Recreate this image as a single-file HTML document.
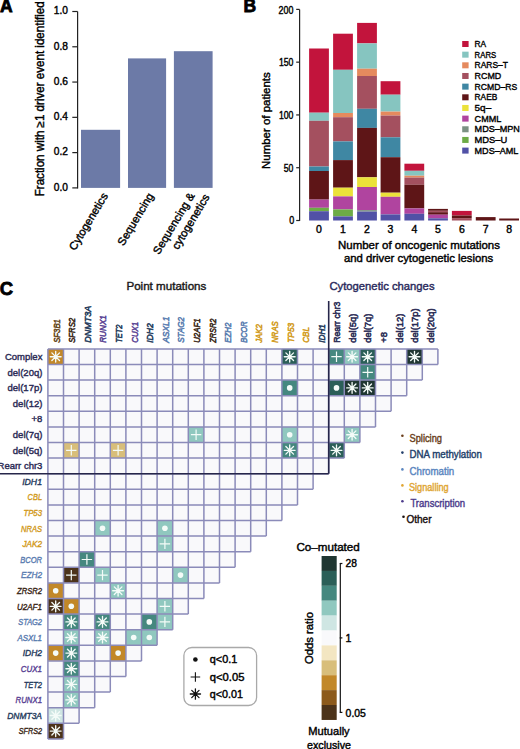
<!DOCTYPE html>
<html><head><meta charset="utf-8"><style>
html,body{margin:0;padding:0;background:#fff;width:520px;height:749px;overflow:hidden}
svg{display:block;font-family:"Liberation Sans", sans-serif}
</style></head><body>
<svg width="520" height="749" viewBox="0 0 520 749">
<text x="0.00" y="12.40" font-size="17.5" fill="#000" font-weight="bold" stroke="#000" stroke-width="0.8">A</text>
<text x="43.60" y="98.80" font-size="12" fill="#000" stroke="#000" stroke-width="0.4" text-anchor="middle" textLength="195" lengthAdjust="spacingAndGlyphs" transform="rotate(-90 43.60 98.80)">Fraction with ≥1 driver event identified</text>
<line x1="77.60" y1="11.50" x2="77.60" y2="188.40" stroke="#222" stroke-width="1.2"/>
<line x1="72.30" y1="187.90" x2="77.60" y2="187.90" stroke="#222" stroke-width="1.2"/>
<text x="68.00" y="190.70" font-size="10.5" fill="#000" stroke="#000" stroke-width="0.4" text-anchor="end" textLength="14.2" lengthAdjust="spacingAndGlyphs">0.0</text>
<line x1="72.30" y1="152.62" x2="77.60" y2="152.62" stroke="#222" stroke-width="1.2"/>
<text x="68.00" y="155.42" font-size="10.5" fill="#000" stroke="#000" stroke-width="0.4" text-anchor="end" textLength="14.2" lengthAdjust="spacingAndGlyphs">0.2</text>
<line x1="72.30" y1="117.34" x2="77.60" y2="117.34" stroke="#222" stroke-width="1.2"/>
<text x="68.00" y="120.14" font-size="10.5" fill="#000" stroke="#000" stroke-width="0.4" text-anchor="end" textLength="14.2" lengthAdjust="spacingAndGlyphs">0.4</text>
<line x1="72.30" y1="82.06" x2="77.60" y2="82.06" stroke="#222" stroke-width="1.2"/>
<text x="68.00" y="84.86" font-size="10.5" fill="#000" stroke="#000" stroke-width="0.4" text-anchor="end" textLength="14.2" lengthAdjust="spacingAndGlyphs">0.6</text>
<line x1="72.30" y1="46.78" x2="77.60" y2="46.78" stroke="#222" stroke-width="1.2"/>
<text x="68.00" y="49.58" font-size="10.5" fill="#000" stroke="#000" stroke-width="0.4" text-anchor="end" textLength="14.2" lengthAdjust="spacingAndGlyphs">0.8</text>
<line x1="72.30" y1="11.50" x2="77.60" y2="11.50" stroke="#222" stroke-width="1.2"/>
<text x="68.00" y="14.30" font-size="10.5" fill="#000" stroke="#000" stroke-width="0.4" text-anchor="end" textLength="14.2" lengthAdjust="spacingAndGlyphs">1.0</text>
<rect x="81.00" y="129.80" width="39.10" height="58.10" fill="#6c7aa7"/>
<rect x="128.00" y="58.40" width="38.10" height="129.50" fill="#6c7aa7"/>
<rect x="173.90" y="51.20" width="38.70" height="136.70" fill="#6c7aa7"/>
<text x="108.30" y="195.80" font-size="11.2" fill="#000" stroke="#000" stroke-width="0.4" text-anchor="end" transform="rotate(-59 108.30 195.80)">Cytogenetics</text>
<text x="154.00" y="195.80" font-size="11.2" fill="#000" stroke="#000" stroke-width="0.4" text-anchor="end" transform="rotate(-59 154.00 195.80)">Sequencing</text>
<text x="195.00" y="195.50" font-size="11.2" fill="#000" stroke="#000" stroke-width="0.4" text-anchor="end" transform="rotate(-59 195.00 195.50)">Sequencing &amp;</text>
<text x="210.00" y="197.00" font-size="11.2" fill="#000" stroke="#000" stroke-width="0.4" text-anchor="end" transform="rotate(-59 210.00 197.00)">cytogenetics</text>
<text x="243.60" y="12.40" font-size="17.5" fill="#000" font-weight="bold" stroke="#000" stroke-width="0.8">B</text>
<text x="269.90" y="120.60" font-size="11.5" fill="#000" stroke="#000" stroke-width="0.4" text-anchor="middle" textLength="96.7" lengthAdjust="spacingAndGlyphs" transform="rotate(-90 269.90 120.60)">Number of patients</text>
<line x1="299.60" y1="9.40" x2="299.60" y2="221.00" stroke="#222" stroke-width="1.2"/>
<line x1="296.20" y1="220.50" x2="299.60" y2="220.50" stroke="#222" stroke-width="1.2"/>
<text x="294.20" y="224.10" font-size="10" fill="#000" stroke="#000" stroke-width="0.4" text-anchor="end" textLength="5" lengthAdjust="spacingAndGlyphs">0</text>
<line x1="296.20" y1="167.72" x2="299.60" y2="167.72" stroke="#222" stroke-width="1.2"/>
<text x="293.40" y="171.92" font-size="10" fill="#000" stroke="#000" stroke-width="0.4" text-anchor="end" textLength="9.6" lengthAdjust="spacingAndGlyphs">50</text>
<line x1="296.20" y1="114.94" x2="299.60" y2="114.94" stroke="#222" stroke-width="1.2"/>
<text x="293.40" y="119.14" font-size="10" fill="#000" stroke="#000" stroke-width="0.4" text-anchor="end" textLength="14.5" lengthAdjust="spacingAndGlyphs">100</text>
<line x1="296.20" y1="62.16" x2="299.60" y2="62.16" stroke="#222" stroke-width="1.2"/>
<text x="293.40" y="66.36" font-size="10" fill="#000" stroke="#000" stroke-width="0.4" text-anchor="end" textLength="14.5" lengthAdjust="spacingAndGlyphs">150</text>
<line x1="296.20" y1="9.38" x2="299.60" y2="9.38" stroke="#222" stroke-width="1.2"/>
<text x="293.40" y="13.58" font-size="10" fill="#000" stroke="#000" stroke-width="0.4" text-anchor="end" textLength="14.8" lengthAdjust="spacingAndGlyphs">200</text>
<rect x="309.10" y="48.50" width="19.80" height="64.20" fill="#c2143c"/>
<rect x="309.10" y="112.70" width="19.80" height="8.10" fill="#86c5c0"/>
<rect x="309.10" y="120.80" width="19.80" height="45.70" fill="#a4505f"/>
<rect x="309.10" y="166.50" width="19.80" height="4.50" fill="#3f87a3"/>
<rect x="309.10" y="171.00" width="19.80" height="28.60" fill="#5e1517"/>
<rect x="309.10" y="199.60" width="19.80" height="8.20" fill="#b0449f"/>
<rect x="309.10" y="207.80" width="19.80" height="3.40" fill="#6dab46"/>
<rect x="309.10" y="211.20" width="19.80" height="9.30" fill="#5151a6"/>
<text x="319.00" y="233.00" font-size="10.5" fill="#000" stroke="#000" stroke-width="0.4" text-anchor="middle">0</text>
<rect x="333.10" y="33.70" width="19.80" height="36.10" fill="#c2143c"/>
<rect x="333.10" y="69.80" width="19.80" height="43.20" fill="#86c5c0"/>
<rect x="333.10" y="113.00" width="19.80" height="4.20" fill="#e58a5e"/>
<rect x="333.10" y="117.20" width="19.80" height="24.20" fill="#a4505f"/>
<rect x="333.10" y="141.40" width="19.80" height="18.70" fill="#3f87a3"/>
<rect x="333.10" y="160.10" width="19.80" height="27.60" fill="#5e1517"/>
<rect x="333.10" y="187.70" width="19.80" height="8.70" fill="#ebe23a"/>
<rect x="333.10" y="196.40" width="19.80" height="13.00" fill="#b0449f"/>
<rect x="333.10" y="209.40" width="19.80" height="7.00" fill="#6dab46"/>
<rect x="333.10" y="216.40" width="19.80" height="4.10" fill="#5151a6"/>
<text x="343.00" y="233.00" font-size="10.5" fill="#000" stroke="#000" stroke-width="0.4" text-anchor="middle">1</text>
<rect x="357.10" y="22.90" width="19.80" height="20.50" fill="#c2143c"/>
<rect x="357.10" y="43.40" width="19.80" height="25.30" fill="#86c5c0"/>
<rect x="357.10" y="68.70" width="19.80" height="7.30" fill="#e58a5e"/>
<rect x="357.10" y="76.00" width="19.80" height="32.80" fill="#a4505f"/>
<rect x="357.10" y="108.80" width="19.80" height="19.10" fill="#3f87a3"/>
<rect x="357.10" y="127.90" width="19.80" height="49.40" fill="#5e1517"/>
<rect x="357.10" y="177.30" width="19.80" height="9.70" fill="#ebe23a"/>
<rect x="357.10" y="187.00" width="19.80" height="23.10" fill="#b0449f"/>
<rect x="357.10" y="210.10" width="19.80" height="1.50" fill="#7b9183"/>
<rect x="357.10" y="211.60" width="19.80" height="8.90" fill="#5151a6"/>
<text x="367.00" y="233.00" font-size="10.5" fill="#000" stroke="#000" stroke-width="0.4" text-anchor="middle">2</text>
<rect x="380.60" y="81.20" width="19.80" height="13.50" fill="#c2143c"/>
<rect x="380.60" y="94.70" width="19.80" height="16.90" fill="#86c5c0"/>
<rect x="380.60" y="111.60" width="19.80" height="4.00" fill="#e58a5e"/>
<rect x="380.60" y="115.60" width="19.80" height="21.70" fill="#a4505f"/>
<rect x="380.60" y="137.30" width="19.80" height="19.90" fill="#3f87a3"/>
<rect x="380.60" y="157.20" width="19.80" height="35.50" fill="#5e1517"/>
<rect x="380.60" y="192.70" width="19.80" height="4.10" fill="#ebe23a"/>
<rect x="380.60" y="196.80" width="19.80" height="17.60" fill="#b0449f"/>
<rect x="380.60" y="214.40" width="19.80" height="6.10" fill="#5151a6"/>
<text x="390.50" y="233.00" font-size="10.5" fill="#000" stroke="#000" stroke-width="0.4" text-anchor="middle">3</text>
<rect x="404.40" y="163.70" width="19.80" height="7.10" fill="#c2143c"/>
<rect x="404.40" y="170.80" width="19.80" height="4.90" fill="#86c5c0"/>
<rect x="404.40" y="175.70" width="19.80" height="1.90" fill="#e58a5e"/>
<rect x="404.40" y="177.60" width="19.80" height="7.20" fill="#a4505f"/>
<rect x="404.40" y="184.80" width="19.80" height="23.60" fill="#5e1517"/>
<rect x="404.40" y="208.40" width="19.80" height="5.40" fill="#b0449f"/>
<rect x="404.40" y="213.80" width="19.80" height="6.70" fill="#5151a6"/>
<text x="414.30" y="233.00" font-size="10.5" fill="#000" stroke="#000" stroke-width="0.4" text-anchor="middle">4</text>
<rect x="428.10" y="208.90" width="19.80" height="1.90" fill="#5e1517"/>
<rect x="428.10" y="210.80" width="19.80" height="1.40" fill="#a4505f"/>
<rect x="428.10" y="212.20" width="19.80" height="2.50" fill="#5e1517"/>
<rect x="428.10" y="214.70" width="19.80" height="3.60" fill="#b0449f"/>
<rect x="428.10" y="218.30" width="19.80" height="2.20" fill="#5151a6"/>
<text x="438.00" y="233.00" font-size="10.5" fill="#000" stroke="#000" stroke-width="0.4" text-anchor="middle">5</text>
<rect x="451.90" y="210.90" width="19.80" height="4.60" fill="#c2143c"/>
<rect x="451.90" y="215.50" width="19.80" height="2.60" fill="#5e1517"/>
<rect x="451.90" y="218.10" width="19.80" height="2.40" fill="#a4505f"/>
<text x="461.80" y="233.00" font-size="10.5" fill="#000" stroke="#000" stroke-width="0.4" text-anchor="middle">6</text>
<rect x="475.80" y="217.10" width="19.80" height="3.40" fill="#5e1517"/>
<text x="485.70" y="233.00" font-size="10.5" fill="#000" stroke="#000" stroke-width="0.4" text-anchor="middle">7</text>
<rect x="499.20" y="218.50" width="19.80" height="2.00" fill="#5e1517"/>
<text x="509.10" y="233.00" font-size="10.5" fill="#000" stroke="#000" stroke-width="0.4" text-anchor="middle">8</text>
<text x="419.00" y="249.20" font-size="11" fill="#000" stroke="#000" stroke-width="0.4" text-anchor="middle" textLength="162" lengthAdjust="spacingAndGlyphs">Number of oncogenic mutations</text>
<text x="418.60" y="262.20" font-size="11" fill="#000" stroke="#000" stroke-width="0.4" text-anchor="middle" textLength="149.4" lengthAdjust="spacingAndGlyphs">and driver cytogenetic lesions</text>
<rect x="462.20" y="41.00" width="6.40" height="6.00" fill="#c2143c"/>
<text x="474.60" y="47.10" font-size="9.8" fill="#000" stroke="#000" stroke-width="0.4" textLength="11.6" lengthAdjust="spacingAndGlyphs">RA</text>
<rect x="462.20" y="51.66" width="6.40" height="6.00" fill="#86c5c0"/>
<text x="474.60" y="57.76" font-size="9.8" fill="#000" stroke="#000" stroke-width="0.4" textLength="21.6" lengthAdjust="spacingAndGlyphs">RARS</text>
<rect x="462.20" y="62.32" width="6.40" height="6.00" fill="#e58a5e"/>
<text x="474.60" y="68.42" font-size="9.8" fill="#000" stroke="#000" stroke-width="0.4" textLength="33.3" lengthAdjust="spacingAndGlyphs">RARS–T</text>
<rect x="462.20" y="72.98" width="6.40" height="6.00" fill="#a4505f"/>
<text x="474.60" y="79.08" font-size="9.8" fill="#000" stroke="#000" stroke-width="0.4" textLength="26.7" lengthAdjust="spacingAndGlyphs">RCMD</text>
<rect x="462.20" y="83.64" width="6.40" height="6.00" fill="#3f87a3"/>
<text x="474.60" y="89.74" font-size="9.8" fill="#000" stroke="#000" stroke-width="0.4" textLength="42.7" lengthAdjust="spacingAndGlyphs">RCMD–RS</text>
<rect x="462.20" y="94.30" width="6.40" height="6.00" fill="#5e1517"/>
<text x="474.60" y="100.40" font-size="9.8" fill="#000" stroke="#000" stroke-width="0.4" textLength="22.7" lengthAdjust="spacingAndGlyphs">RAEB</text>
<rect x="462.20" y="104.96" width="6.40" height="6.00" fill="#ebe23a"/>
<text x="474.60" y="111.06" font-size="9.8" fill="#000" stroke="#000" stroke-width="0.4" textLength="16.6" lengthAdjust="spacingAndGlyphs">5q–</text>
<rect x="462.20" y="115.62" width="6.40" height="6.00" fill="#b0449f"/>
<text x="474.60" y="121.72" font-size="9.8" fill="#000" stroke="#000" stroke-width="0.4" textLength="26.7" lengthAdjust="spacingAndGlyphs">CMML</text>
<rect x="462.20" y="126.28" width="6.40" height="6.00" fill="#7b9183"/>
<text x="474.60" y="132.38" font-size="9.8" fill="#000" stroke="#000" stroke-width="0.4" textLength="45.3" lengthAdjust="spacingAndGlyphs">MDS–MPN</text>
<rect x="462.20" y="136.94" width="6.40" height="6.00" fill="#6dab46"/>
<text x="474.60" y="143.04" font-size="9.8" fill="#000" stroke="#000" stroke-width="0.4" textLength="32.7" lengthAdjust="spacingAndGlyphs">MDS–U</text>
<rect x="462.20" y="147.60" width="6.40" height="6.00" fill="#5151a6"/>
<text x="474.60" y="153.70" font-size="9.8" fill="#000" stroke="#000" stroke-width="0.4" textLength="43.7" lengthAdjust="spacingAndGlyphs">MDS–AML</text>
<text x="-0.30" y="294.80" font-size="18.5" fill="#000" font-weight="bold" stroke="#000" stroke-width="0.8">C</text>
<text x="166.40" y="289.80" font-size="11" fill="#1a1a1a" stroke="#1a1a1a" stroke-width="0.4" text-anchor="middle" textLength="80" lengthAdjust="spacingAndGlyphs">Point mutations</text>
<text x="382.00" y="290.00" font-size="11" fill="#2a2a5c" stroke="#2a2a5c" stroke-width="0.4" text-anchor="middle" textLength="105" lengthAdjust="spacingAndGlyphs">Cytogenetic changes</text>
<rect x="47.90" y="348.90" width="15.60" height="15.60" fill="#c28828"/>
<rect x="63.50" y="348.90" width="15.60" height="15.60" fill="#f9f9fb"/>
<rect x="79.10" y="348.90" width="15.60" height="15.60" fill="#f9f9fb"/>
<rect x="94.70" y="348.90" width="15.60" height="15.60" fill="#f9f9fb"/>
<rect x="110.30" y="348.90" width="15.60" height="15.60" fill="#f9f9fb"/>
<rect x="125.90" y="348.90" width="15.60" height="15.60" fill="#f9f9fb"/>
<rect x="141.50" y="348.90" width="15.60" height="15.60" fill="#f9f9fb"/>
<rect x="157.10" y="348.90" width="15.60" height="15.60" fill="#f9f9fb"/>
<rect x="172.70" y="348.90" width="15.60" height="15.60" fill="#f9f9fb"/>
<rect x="188.30" y="348.90" width="15.60" height="15.60" fill="#f9f9fb"/>
<rect x="203.90" y="348.90" width="15.60" height="15.60" fill="#f9f9fb"/>
<rect x="219.50" y="348.90" width="15.60" height="15.60" fill="#f9f9fb"/>
<rect x="235.10" y="348.90" width="15.60" height="15.60" fill="#f9f9fb"/>
<rect x="250.70" y="348.90" width="15.60" height="15.60" fill="#f9f9fb"/>
<rect x="266.30" y="348.90" width="15.60" height="15.60" fill="#f9f9fb"/>
<rect x="281.90" y="348.90" width="15.60" height="15.60" fill="#2b5f58"/>
<rect x="297.50" y="348.90" width="15.60" height="15.60" fill="#f9f9fb"/>
<rect x="313.10" y="348.90" width="15.60" height="15.60" fill="#f9f9fb"/>
<rect x="328.70" y="348.90" width="15.60" height="15.60" fill="#45887f"/>
<rect x="344.30" y="348.90" width="15.60" height="15.60" fill="#90c8bf"/>
<rect x="359.90" y="348.90" width="15.60" height="15.60" fill="#2b5f58"/>
<rect x="375.50" y="348.90" width="15.60" height="15.60" fill="#f9f9fb"/>
<rect x="391.10" y="348.90" width="15.60" height="15.60" fill="#f9f9fb"/>
<rect x="406.70" y="348.90" width="15.60" height="15.60" fill="#1f3631"/>
<rect x="422.30" y="348.90" width="15.60" height="15.60" fill="#f9f9fb"/>
<rect x="47.90" y="364.50" width="15.60" height="15.60" fill="#f9f9fb"/>
<rect x="63.50" y="364.50" width="15.60" height="15.60" fill="#f9f9fb"/>
<rect x="79.10" y="364.50" width="15.60" height="15.60" fill="#f9f9fb"/>
<rect x="94.70" y="364.50" width="15.60" height="15.60" fill="#f9f9fb"/>
<rect x="110.30" y="364.50" width="15.60" height="15.60" fill="#f9f9fb"/>
<rect x="125.90" y="364.50" width="15.60" height="15.60" fill="#f9f9fb"/>
<rect x="141.50" y="364.50" width="15.60" height="15.60" fill="#f9f9fb"/>
<rect x="157.10" y="364.50" width="15.60" height="15.60" fill="#f9f9fb"/>
<rect x="172.70" y="364.50" width="15.60" height="15.60" fill="#f9f9fb"/>
<rect x="188.30" y="364.50" width="15.60" height="15.60" fill="#f9f9fb"/>
<rect x="203.90" y="364.50" width="15.60" height="15.60" fill="#f9f9fb"/>
<rect x="219.50" y="364.50" width="15.60" height="15.60" fill="#f9f9fb"/>
<rect x="235.10" y="364.50" width="15.60" height="15.60" fill="#f9f9fb"/>
<rect x="250.70" y="364.50" width="15.60" height="15.60" fill="#f9f9fb"/>
<rect x="266.30" y="364.50" width="15.60" height="15.60" fill="#f9f9fb"/>
<rect x="281.90" y="364.50" width="15.60" height="15.60" fill="#f9f9fb"/>
<rect x="297.50" y="364.50" width="15.60" height="15.60" fill="#f9f9fb"/>
<rect x="313.10" y="364.50" width="15.60" height="15.60" fill="#f9f9fb"/>
<rect x="328.70" y="364.50" width="15.60" height="15.60" fill="#f9f9fb"/>
<rect x="344.30" y="364.50" width="15.60" height="15.60" fill="#f9f9fb"/>
<rect x="359.90" y="364.50" width="15.60" height="15.60" fill="#45887f"/>
<rect x="375.50" y="364.50" width="15.60" height="15.60" fill="#f9f9fb"/>
<rect x="391.10" y="364.50" width="15.60" height="15.60" fill="#f9f9fb"/>
<rect x="406.70" y="364.50" width="15.60" height="15.60" fill="#f9f9fb"/>
<rect x="47.90" y="380.10" width="15.60" height="15.60" fill="#f9f9fb"/>
<rect x="63.50" y="380.10" width="15.60" height="15.60" fill="#f9f9fb"/>
<rect x="79.10" y="380.10" width="15.60" height="15.60" fill="#f9f9fb"/>
<rect x="94.70" y="380.10" width="15.60" height="15.60" fill="#f9f9fb"/>
<rect x="110.30" y="380.10" width="15.60" height="15.60" fill="#f9f9fb"/>
<rect x="125.90" y="380.10" width="15.60" height="15.60" fill="#f9f9fb"/>
<rect x="141.50" y="380.10" width="15.60" height="15.60" fill="#f9f9fb"/>
<rect x="157.10" y="380.10" width="15.60" height="15.60" fill="#f9f9fb"/>
<rect x="172.70" y="380.10" width="15.60" height="15.60" fill="#f9f9fb"/>
<rect x="188.30" y="380.10" width="15.60" height="15.60" fill="#f9f9fb"/>
<rect x="203.90" y="380.10" width="15.60" height="15.60" fill="#f9f9fb"/>
<rect x="219.50" y="380.10" width="15.60" height="15.60" fill="#f9f9fb"/>
<rect x="235.10" y="380.10" width="15.60" height="15.60" fill="#f9f9fb"/>
<rect x="250.70" y="380.10" width="15.60" height="15.60" fill="#f9f9fb"/>
<rect x="266.30" y="380.10" width="15.60" height="15.60" fill="#f9f9fb"/>
<rect x="281.90" y="380.10" width="15.60" height="15.60" fill="#45887f"/>
<rect x="297.50" y="380.10" width="15.60" height="15.60" fill="#f9f9fb"/>
<rect x="313.10" y="380.10" width="15.60" height="15.60" fill="#f9f9fb"/>
<rect x="328.70" y="380.10" width="15.60" height="15.60" fill="#2b5f58"/>
<rect x="344.30" y="380.10" width="15.60" height="15.60" fill="#1f3631"/>
<rect x="359.90" y="380.10" width="15.60" height="15.60" fill="#1f3631"/>
<rect x="375.50" y="380.10" width="15.60" height="15.60" fill="#f9f9fb"/>
<rect x="391.10" y="380.10" width="15.60" height="15.60" fill="#f9f9fb"/>
<rect x="47.90" y="395.70" width="15.60" height="15.60" fill="#f9f9fb"/>
<rect x="63.50" y="395.70" width="15.60" height="15.60" fill="#f9f9fb"/>
<rect x="79.10" y="395.70" width="15.60" height="15.60" fill="#f9f9fb"/>
<rect x="94.70" y="395.70" width="15.60" height="15.60" fill="#f9f9fb"/>
<rect x="110.30" y="395.70" width="15.60" height="15.60" fill="#f9f9fb"/>
<rect x="125.90" y="395.70" width="15.60" height="15.60" fill="#f9f9fb"/>
<rect x="141.50" y="395.70" width="15.60" height="15.60" fill="#f9f9fb"/>
<rect x="157.10" y="395.70" width="15.60" height="15.60" fill="#f9f9fb"/>
<rect x="172.70" y="395.70" width="15.60" height="15.60" fill="#f9f9fb"/>
<rect x="188.30" y="395.70" width="15.60" height="15.60" fill="#f9f9fb"/>
<rect x="203.90" y="395.70" width="15.60" height="15.60" fill="#f9f9fb"/>
<rect x="219.50" y="395.70" width="15.60" height="15.60" fill="#f9f9fb"/>
<rect x="235.10" y="395.70" width="15.60" height="15.60" fill="#f9f9fb"/>
<rect x="250.70" y="395.70" width="15.60" height="15.60" fill="#f9f9fb"/>
<rect x="266.30" y="395.70" width="15.60" height="15.60" fill="#f9f9fb"/>
<rect x="281.90" y="395.70" width="15.60" height="15.60" fill="#f9f9fb"/>
<rect x="297.50" y="395.70" width="15.60" height="15.60" fill="#f9f9fb"/>
<rect x="313.10" y="395.70" width="15.60" height="15.60" fill="#f9f9fb"/>
<rect x="328.70" y="395.70" width="15.60" height="15.60" fill="#f9f9fb"/>
<rect x="344.30" y="395.70" width="15.60" height="15.60" fill="#f9f9fb"/>
<rect x="359.90" y="395.70" width="15.60" height="15.60" fill="#f9f9fb"/>
<rect x="375.50" y="395.70" width="15.60" height="15.60" fill="#f9f9fb"/>
<rect x="47.90" y="411.30" width="15.60" height="15.60" fill="#f9f9fb"/>
<rect x="63.50" y="411.30" width="15.60" height="15.60" fill="#f9f9fb"/>
<rect x="79.10" y="411.30" width="15.60" height="15.60" fill="#f9f9fb"/>
<rect x="94.70" y="411.30" width="15.60" height="15.60" fill="#f9f9fb"/>
<rect x="110.30" y="411.30" width="15.60" height="15.60" fill="#f9f9fb"/>
<rect x="125.90" y="411.30" width="15.60" height="15.60" fill="#f9f9fb"/>
<rect x="141.50" y="411.30" width="15.60" height="15.60" fill="#f9f9fb"/>
<rect x="157.10" y="411.30" width="15.60" height="15.60" fill="#f9f9fb"/>
<rect x="172.70" y="411.30" width="15.60" height="15.60" fill="#f9f9fb"/>
<rect x="188.30" y="411.30" width="15.60" height="15.60" fill="#f9f9fb"/>
<rect x="203.90" y="411.30" width="15.60" height="15.60" fill="#f9f9fb"/>
<rect x="219.50" y="411.30" width="15.60" height="15.60" fill="#f9f9fb"/>
<rect x="235.10" y="411.30" width="15.60" height="15.60" fill="#f9f9fb"/>
<rect x="250.70" y="411.30" width="15.60" height="15.60" fill="#f9f9fb"/>
<rect x="266.30" y="411.30" width="15.60" height="15.60" fill="#f9f9fb"/>
<rect x="281.90" y="411.30" width="15.60" height="15.60" fill="#f9f9fb"/>
<rect x="297.50" y="411.30" width="15.60" height="15.60" fill="#f9f9fb"/>
<rect x="313.10" y="411.30" width="15.60" height="15.60" fill="#f9f9fb"/>
<rect x="328.70" y="411.30" width="15.60" height="15.60" fill="#f9f9fb"/>
<rect x="344.30" y="411.30" width="15.60" height="15.60" fill="#f9f9fb"/>
<rect x="359.90" y="411.30" width="15.60" height="15.60" fill="#f9f9fb"/>
<rect x="47.90" y="426.90" width="15.60" height="15.60" fill="#f9f9fb"/>
<rect x="63.50" y="426.90" width="15.60" height="15.60" fill="#f9f9fb"/>
<rect x="79.10" y="426.90" width="15.60" height="15.60" fill="#f9f9fb"/>
<rect x="94.70" y="426.90" width="15.60" height="15.60" fill="#f9f9fb"/>
<rect x="110.30" y="426.90" width="15.60" height="15.60" fill="#f9f9fb"/>
<rect x="125.90" y="426.90" width="15.60" height="15.60" fill="#f9f9fb"/>
<rect x="141.50" y="426.90" width="15.60" height="15.60" fill="#f9f9fb"/>
<rect x="157.10" y="426.90" width="15.60" height="15.60" fill="#f9f9fb"/>
<rect x="172.70" y="426.90" width="15.60" height="15.60" fill="#f9f9fb"/>
<rect x="188.30" y="426.90" width="15.60" height="15.60" fill="#90c8bf"/>
<rect x="203.90" y="426.90" width="15.60" height="15.60" fill="#f9f9fb"/>
<rect x="219.50" y="426.90" width="15.60" height="15.60" fill="#f9f9fb"/>
<rect x="235.10" y="426.90" width="15.60" height="15.60" fill="#f9f9fb"/>
<rect x="250.70" y="426.90" width="15.60" height="15.60" fill="#f9f9fb"/>
<rect x="266.30" y="426.90" width="15.60" height="15.60" fill="#f9f9fb"/>
<rect x="281.90" y="426.90" width="15.60" height="15.60" fill="#90c8bf"/>
<rect x="297.50" y="426.90" width="15.60" height="15.60" fill="#f9f9fb"/>
<rect x="313.10" y="426.90" width="15.60" height="15.60" fill="#f9f9fb"/>
<rect x="328.70" y="426.90" width="15.60" height="15.60" fill="#f9f9fb"/>
<rect x="344.30" y="426.90" width="15.60" height="15.60" fill="#90c8bf"/>
<rect x="47.90" y="442.50" width="15.60" height="15.60" fill="#f9f9fb"/>
<rect x="63.50" y="442.50" width="15.60" height="15.60" fill="#d8be7a"/>
<rect x="79.10" y="442.50" width="15.60" height="15.60" fill="#f9f9fb"/>
<rect x="94.70" y="442.50" width="15.60" height="15.60" fill="#f9f9fb"/>
<rect x="110.30" y="442.50" width="15.60" height="15.60" fill="#d8be7a"/>
<rect x="125.90" y="442.50" width="15.60" height="15.60" fill="#f9f9fb"/>
<rect x="141.50" y="442.50" width="15.60" height="15.60" fill="#f9f9fb"/>
<rect x="157.10" y="442.50" width="15.60" height="15.60" fill="#f9f9fb"/>
<rect x="172.70" y="442.50" width="15.60" height="15.60" fill="#f9f9fb"/>
<rect x="188.30" y="442.50" width="15.60" height="15.60" fill="#f9f9fb"/>
<rect x="203.90" y="442.50" width="15.60" height="15.60" fill="#f9f9fb"/>
<rect x="219.50" y="442.50" width="15.60" height="15.60" fill="#f9f9fb"/>
<rect x="235.10" y="442.50" width="15.60" height="15.60" fill="#f9f9fb"/>
<rect x="250.70" y="442.50" width="15.60" height="15.60" fill="#f9f9fb"/>
<rect x="266.30" y="442.50" width="15.60" height="15.60" fill="#f9f9fb"/>
<rect x="281.90" y="442.50" width="15.60" height="15.60" fill="#45887f"/>
<rect x="297.50" y="442.50" width="15.60" height="15.60" fill="#f9f9fb"/>
<rect x="313.10" y="442.50" width="15.60" height="15.60" fill="#f9f9fb"/>
<rect x="328.70" y="442.50" width="15.60" height="15.60" fill="#2b5f58"/>
<rect x="47.90" y="458.10" width="15.60" height="15.60" fill="#f9f9fb"/>
<rect x="63.50" y="458.10" width="15.60" height="15.60" fill="#f9f9fb"/>
<rect x="79.10" y="458.10" width="15.60" height="15.60" fill="#f9f9fb"/>
<rect x="94.70" y="458.10" width="15.60" height="15.60" fill="#f9f9fb"/>
<rect x="110.30" y="458.10" width="15.60" height="15.60" fill="#f9f9fb"/>
<rect x="125.90" y="458.10" width="15.60" height="15.60" fill="#f9f9fb"/>
<rect x="141.50" y="458.10" width="15.60" height="15.60" fill="#f9f9fb"/>
<rect x="157.10" y="458.10" width="15.60" height="15.60" fill="#f9f9fb"/>
<rect x="172.70" y="458.10" width="15.60" height="15.60" fill="#f9f9fb"/>
<rect x="188.30" y="458.10" width="15.60" height="15.60" fill="#f9f9fb"/>
<rect x="203.90" y="458.10" width="15.60" height="15.60" fill="#f9f9fb"/>
<rect x="219.50" y="458.10" width="15.60" height="15.60" fill="#f9f9fb"/>
<rect x="235.10" y="458.10" width="15.60" height="15.60" fill="#f9f9fb"/>
<rect x="250.70" y="458.10" width="15.60" height="15.60" fill="#f9f9fb"/>
<rect x="266.30" y="458.10" width="15.60" height="15.60" fill="#f9f9fb"/>
<rect x="281.90" y="458.10" width="15.60" height="15.60" fill="#f9f9fb"/>
<rect x="297.50" y="458.10" width="15.60" height="15.60" fill="#f9f9fb"/>
<rect x="313.10" y="458.10" width="15.60" height="15.60" fill="#f9f9fb"/>
<rect x="47.90" y="473.70" width="15.60" height="15.60" fill="#f9f9fb"/>
<rect x="63.50" y="473.70" width="15.60" height="15.60" fill="#f9f9fb"/>
<rect x="79.10" y="473.70" width="15.60" height="15.60" fill="#f9f9fb"/>
<rect x="94.70" y="473.70" width="15.60" height="15.60" fill="#f9f9fb"/>
<rect x="110.30" y="473.70" width="15.60" height="15.60" fill="#f9f9fb"/>
<rect x="125.90" y="473.70" width="15.60" height="15.60" fill="#f9f9fb"/>
<rect x="141.50" y="473.70" width="15.60" height="15.60" fill="#f9f9fb"/>
<rect x="157.10" y="473.70" width="15.60" height="15.60" fill="#f9f9fb"/>
<rect x="172.70" y="473.70" width="15.60" height="15.60" fill="#f9f9fb"/>
<rect x="188.30" y="473.70" width="15.60" height="15.60" fill="#f9f9fb"/>
<rect x="203.90" y="473.70" width="15.60" height="15.60" fill="#f9f9fb"/>
<rect x="219.50" y="473.70" width="15.60" height="15.60" fill="#f9f9fb"/>
<rect x="235.10" y="473.70" width="15.60" height="15.60" fill="#f9f9fb"/>
<rect x="250.70" y="473.70" width="15.60" height="15.60" fill="#f9f9fb"/>
<rect x="266.30" y="473.70" width="15.60" height="15.60" fill="#f9f9fb"/>
<rect x="281.90" y="473.70" width="15.60" height="15.60" fill="#f9f9fb"/>
<rect x="297.50" y="473.70" width="15.60" height="15.60" fill="#f9f9fb"/>
<rect x="47.90" y="489.30" width="15.60" height="15.60" fill="#f9f9fb"/>
<rect x="63.50" y="489.30" width="15.60" height="15.60" fill="#f9f9fb"/>
<rect x="79.10" y="489.30" width="15.60" height="15.60" fill="#f9f9fb"/>
<rect x="94.70" y="489.30" width="15.60" height="15.60" fill="#f9f9fb"/>
<rect x="110.30" y="489.30" width="15.60" height="15.60" fill="#f9f9fb"/>
<rect x="125.90" y="489.30" width="15.60" height="15.60" fill="#f9f9fb"/>
<rect x="141.50" y="489.30" width="15.60" height="15.60" fill="#f9f9fb"/>
<rect x="157.10" y="489.30" width="15.60" height="15.60" fill="#f9f9fb"/>
<rect x="172.70" y="489.30" width="15.60" height="15.60" fill="#f9f9fb"/>
<rect x="188.30" y="489.30" width="15.60" height="15.60" fill="#f9f9fb"/>
<rect x="203.90" y="489.30" width="15.60" height="15.60" fill="#f9f9fb"/>
<rect x="219.50" y="489.30" width="15.60" height="15.60" fill="#f9f9fb"/>
<rect x="235.10" y="489.30" width="15.60" height="15.60" fill="#f9f9fb"/>
<rect x="250.70" y="489.30" width="15.60" height="15.60" fill="#f9f9fb"/>
<rect x="266.30" y="489.30" width="15.60" height="15.60" fill="#f9f9fb"/>
<rect x="281.90" y="489.30" width="15.60" height="15.60" fill="#f9f9fb"/>
<rect x="47.90" y="504.90" width="15.60" height="15.60" fill="#f9f9fb"/>
<rect x="63.50" y="504.90" width="15.60" height="15.60" fill="#f9f9fb"/>
<rect x="79.10" y="504.90" width="15.60" height="15.60" fill="#f9f9fb"/>
<rect x="94.70" y="504.90" width="15.60" height="15.60" fill="#f9f9fb"/>
<rect x="110.30" y="504.90" width="15.60" height="15.60" fill="#f9f9fb"/>
<rect x="125.90" y="504.90" width="15.60" height="15.60" fill="#f9f9fb"/>
<rect x="141.50" y="504.90" width="15.60" height="15.60" fill="#f9f9fb"/>
<rect x="157.10" y="504.90" width="15.60" height="15.60" fill="#f9f9fb"/>
<rect x="172.70" y="504.90" width="15.60" height="15.60" fill="#f9f9fb"/>
<rect x="188.30" y="504.90" width="15.60" height="15.60" fill="#f9f9fb"/>
<rect x="203.90" y="504.90" width="15.60" height="15.60" fill="#f9f9fb"/>
<rect x="219.50" y="504.90" width="15.60" height="15.60" fill="#f9f9fb"/>
<rect x="235.10" y="504.90" width="15.60" height="15.60" fill="#f9f9fb"/>
<rect x="250.70" y="504.90" width="15.60" height="15.60" fill="#f9f9fb"/>
<rect x="266.30" y="504.90" width="15.60" height="15.60" fill="#f9f9fb"/>
<rect x="47.90" y="520.50" width="15.60" height="15.60" fill="#f9f9fb"/>
<rect x="63.50" y="520.50" width="15.60" height="15.60" fill="#f9f9fb"/>
<rect x="79.10" y="520.50" width="15.60" height="15.60" fill="#f9f9fb"/>
<rect x="94.70" y="520.50" width="15.60" height="15.60" fill="#90c8bf"/>
<rect x="110.30" y="520.50" width="15.60" height="15.60" fill="#f9f9fb"/>
<rect x="125.90" y="520.50" width="15.60" height="15.60" fill="#f9f9fb"/>
<rect x="141.50" y="520.50" width="15.60" height="15.60" fill="#f9f9fb"/>
<rect x="157.10" y="520.50" width="15.60" height="15.60" fill="#90c8bf"/>
<rect x="172.70" y="520.50" width="15.60" height="15.60" fill="#f9f9fb"/>
<rect x="188.30" y="520.50" width="15.60" height="15.60" fill="#f9f9fb"/>
<rect x="203.90" y="520.50" width="15.60" height="15.60" fill="#f9f9fb"/>
<rect x="219.50" y="520.50" width="15.60" height="15.60" fill="#f9f9fb"/>
<rect x="235.10" y="520.50" width="15.60" height="15.60" fill="#f9f9fb"/>
<rect x="250.70" y="520.50" width="15.60" height="15.60" fill="#f9f9fb"/>
<rect x="47.90" y="536.10" width="15.60" height="15.60" fill="#f9f9fb"/>
<rect x="63.50" y="536.10" width="15.60" height="15.60" fill="#f9f9fb"/>
<rect x="79.10" y="536.10" width="15.60" height="15.60" fill="#f9f9fb"/>
<rect x="94.70" y="536.10" width="15.60" height="15.60" fill="#f9f9fb"/>
<rect x="110.30" y="536.10" width="15.60" height="15.60" fill="#f9f9fb"/>
<rect x="125.90" y="536.10" width="15.60" height="15.60" fill="#f9f9fb"/>
<rect x="141.50" y="536.10" width="15.60" height="15.60" fill="#f9f9fb"/>
<rect x="157.10" y="536.10" width="15.60" height="15.60" fill="#90c8bf"/>
<rect x="172.70" y="536.10" width="15.60" height="15.60" fill="#f9f9fb"/>
<rect x="188.30" y="536.10" width="15.60" height="15.60" fill="#f9f9fb"/>
<rect x="203.90" y="536.10" width="15.60" height="15.60" fill="#f9f9fb"/>
<rect x="219.50" y="536.10" width="15.60" height="15.60" fill="#f9f9fb"/>
<rect x="235.10" y="536.10" width="15.60" height="15.60" fill="#f9f9fb"/>
<rect x="47.90" y="551.70" width="15.60" height="15.60" fill="#f9f9fb"/>
<rect x="63.50" y="551.70" width="15.60" height="15.60" fill="#f9f9fb"/>
<rect x="79.10" y="551.70" width="15.60" height="15.60" fill="#45887f"/>
<rect x="94.70" y="551.70" width="15.60" height="15.60" fill="#f9f9fb"/>
<rect x="110.30" y="551.70" width="15.60" height="15.60" fill="#f9f9fb"/>
<rect x="125.90" y="551.70" width="15.60" height="15.60" fill="#f9f9fb"/>
<rect x="141.50" y="551.70" width="15.60" height="15.60" fill="#f9f9fb"/>
<rect x="157.10" y="551.70" width="15.60" height="15.60" fill="#f9f9fb"/>
<rect x="172.70" y="551.70" width="15.60" height="15.60" fill="#f9f9fb"/>
<rect x="188.30" y="551.70" width="15.60" height="15.60" fill="#f9f9fb"/>
<rect x="203.90" y="551.70" width="15.60" height="15.60" fill="#f9f9fb"/>
<rect x="219.50" y="551.70" width="15.60" height="15.60" fill="#f9f9fb"/>
<rect x="47.90" y="567.30" width="15.60" height="15.60" fill="#f9f9fb"/>
<rect x="63.50" y="567.30" width="15.60" height="15.60" fill="#4c331a"/>
<rect x="79.10" y="567.30" width="15.60" height="15.60" fill="#f9f9fb"/>
<rect x="94.70" y="567.30" width="15.60" height="15.60" fill="#90c8bf"/>
<rect x="110.30" y="567.30" width="15.60" height="15.60" fill="#f9f9fb"/>
<rect x="125.90" y="567.30" width="15.60" height="15.60" fill="#f9f9fb"/>
<rect x="141.50" y="567.30" width="15.60" height="15.60" fill="#f9f9fb"/>
<rect x="157.10" y="567.30" width="15.60" height="15.60" fill="#f9f9fb"/>
<rect x="172.70" y="567.30" width="15.60" height="15.60" fill="#90c8bf"/>
<rect x="188.30" y="567.30" width="15.60" height="15.60" fill="#f9f9fb"/>
<rect x="203.90" y="567.30" width="15.60" height="15.60" fill="#f9f9fb"/>
<rect x="47.90" y="582.90" width="15.60" height="15.60" fill="#c28828"/>
<rect x="63.50" y="582.90" width="15.60" height="15.60" fill="#f9f9fb"/>
<rect x="79.10" y="582.90" width="15.60" height="15.60" fill="#f9f9fb"/>
<rect x="94.70" y="582.90" width="15.60" height="15.60" fill="#f9f9fb"/>
<rect x="110.30" y="582.90" width="15.60" height="15.60" fill="#90c8bf"/>
<rect x="125.90" y="582.90" width="15.60" height="15.60" fill="#f9f9fb"/>
<rect x="141.50" y="582.90" width="15.60" height="15.60" fill="#f9f9fb"/>
<rect x="157.10" y="582.90" width="15.60" height="15.60" fill="#f9f9fb"/>
<rect x="172.70" y="582.90" width="15.60" height="15.60" fill="#f9f9fb"/>
<rect x="188.30" y="582.90" width="15.60" height="15.60" fill="#f9f9fb"/>
<rect x="47.90" y="598.50" width="15.60" height="15.60" fill="#4c331a"/>
<rect x="63.50" y="598.50" width="15.60" height="15.60" fill="#c28828"/>
<rect x="79.10" y="598.50" width="15.60" height="15.60" fill="#f9f9fb"/>
<rect x="94.70" y="598.50" width="15.60" height="15.60" fill="#f9f9fb"/>
<rect x="110.30" y="598.50" width="15.60" height="15.60" fill="#f9f9fb"/>
<rect x="125.90" y="598.50" width="15.60" height="15.60" fill="#f9f9fb"/>
<rect x="141.50" y="598.50" width="15.60" height="15.60" fill="#f9f9fb"/>
<rect x="157.10" y="598.50" width="15.60" height="15.60" fill="#90c8bf"/>
<rect x="172.70" y="598.50" width="15.60" height="15.60" fill="#f9f9fb"/>
<rect x="47.90" y="614.10" width="15.60" height="15.60" fill="#f9f9fb"/>
<rect x="63.50" y="614.10" width="15.60" height="15.60" fill="#45887f"/>
<rect x="79.10" y="614.10" width="15.60" height="15.60" fill="#f9f9fb"/>
<rect x="94.70" y="614.10" width="15.60" height="15.60" fill="#45887f"/>
<rect x="110.30" y="614.10" width="15.60" height="15.60" fill="#f9f9fb"/>
<rect x="125.90" y="614.10" width="15.60" height="15.60" fill="#f9f9fb"/>
<rect x="141.50" y="614.10" width="15.60" height="15.60" fill="#45887f"/>
<rect x="157.10" y="614.10" width="15.60" height="15.60" fill="#90c8bf"/>
<rect x="47.90" y="629.70" width="15.60" height="15.60" fill="#f9f9fb"/>
<rect x="63.50" y="629.70" width="15.60" height="15.60" fill="#90c8bf"/>
<rect x="79.10" y="629.70" width="15.60" height="15.60" fill="#f9f9fb"/>
<rect x="94.70" y="629.70" width="15.60" height="15.60" fill="#90c8bf"/>
<rect x="110.30" y="629.70" width="15.60" height="15.60" fill="#f9f9fb"/>
<rect x="125.90" y="629.70" width="15.60" height="15.60" fill="#90c8bf"/>
<rect x="141.50" y="629.70" width="15.60" height="15.60" fill="#90c8bf"/>
<rect x="47.90" y="645.30" width="15.60" height="15.60" fill="#c28828"/>
<rect x="63.50" y="645.30" width="15.60" height="15.60" fill="#45887f"/>
<rect x="79.10" y="645.30" width="15.60" height="15.60" fill="#f9f9fb"/>
<rect x="94.70" y="645.30" width="15.60" height="15.60" fill="#f9f9fb"/>
<rect x="110.30" y="645.30" width="15.60" height="15.60" fill="#c28828"/>
<rect x="125.90" y="645.30" width="15.60" height="15.60" fill="#f9f9fb"/>
<rect x="47.90" y="660.90" width="15.60" height="15.60" fill="#f9f9fb"/>
<rect x="63.50" y="660.90" width="15.60" height="15.60" fill="#45887f"/>
<rect x="79.10" y="660.90" width="15.60" height="15.60" fill="#f9f9fb"/>
<rect x="94.70" y="660.90" width="15.60" height="15.60" fill="#f9f9fb"/>
<rect x="110.30" y="660.90" width="15.60" height="15.60" fill="#f9f9fb"/>
<rect x="47.90" y="676.50" width="15.60" height="15.60" fill="#f9f9fb"/>
<rect x="63.50" y="676.50" width="15.60" height="15.60" fill="#90c8bf"/>
<rect x="79.10" y="676.50" width="15.60" height="15.60" fill="#f9f9fb"/>
<rect x="94.70" y="676.50" width="15.60" height="15.60" fill="#f9f9fb"/>
<rect x="47.90" y="692.10" width="15.60" height="15.60" fill="#f9f9fb"/>
<rect x="63.50" y="692.10" width="15.60" height="15.60" fill="#90c8bf"/>
<rect x="79.10" y="692.10" width="15.60" height="15.60" fill="#f9f9fb"/>
<rect x="47.90" y="707.70" width="15.60" height="15.60" fill="#cfe6e3"/>
<rect x="63.50" y="707.70" width="15.60" height="15.60" fill="#f9f9fb"/>
<rect x="47.90" y="723.30" width="15.60" height="15.60" fill="#4c331a"/>
<path d="M47.90 348.90H437.90M47.90 364.50H437.90M47.90 380.10H422.30M47.90 395.70H406.70M47.90 411.30H391.10M47.90 426.90H375.50M47.90 442.50H359.90M47.90 458.10H344.30M47.90 473.70H328.70M47.90 489.30H313.10M47.90 504.90H297.50M47.90 520.50H281.90M47.90 536.10H266.30M47.90 551.70H250.70M47.90 567.30H235.10M47.90 582.90H219.50M47.90 598.50H203.90M47.90 614.10H188.30M47.90 629.70H172.70M47.90 645.30H157.10M47.90 660.90H141.50M47.90 676.50H125.90M47.90 692.10H110.30M47.90 707.70H94.70M47.90 723.30H79.10M47.90 738.90H63.50M47.90 348.90V738.90M63.50 348.90V738.90M79.10 348.90V723.30M94.70 348.90V707.70M110.30 348.90V692.10M125.90 348.90V676.50M141.50 348.90V660.90M157.10 348.90V645.30M172.70 348.90V629.70M188.30 348.90V614.10M203.90 348.90V598.50M219.50 348.90V582.90M235.10 348.90V567.30M250.70 348.90V551.70M266.30 348.90V536.10M281.90 348.90V520.50M297.50 348.90V504.90M313.10 348.90V489.30M328.70 348.90V473.70M344.30 348.90V458.10M359.90 348.90V442.50M375.50 348.90V426.90M391.10 348.90V411.30M406.70 348.90V395.70M422.30 348.90V380.10M437.90 348.90V364.50" stroke="#8b8bb9" stroke-width="1.5" fill="none"/>
<path d="M50.30 356.70L61.10 356.70M51.88 352.88L59.52 360.52M55.70 351.30L55.70 362.10M59.52 352.88L51.88 360.52" stroke="#f4fbf8" stroke-width="1.35" fill="none" stroke-linecap="round"/>
<path d="M66.10 450.30H76.50M71.30 445.10V455.50" stroke="#f4fbf8" stroke-width="1.20" fill="none"/>
<path d="M112.90 450.30H123.30M118.10 445.10V455.50" stroke="#f4fbf8" stroke-width="1.20" fill="none"/>
<path d="M284.30 356.70L295.10 356.70M285.88 352.88L293.52 360.52M289.70 351.30L289.70 362.10M293.52 352.88L285.88 360.52" stroke="#f4fbf8" stroke-width="1.35" fill="none" stroke-linecap="round"/>
<circle cx="289.70" cy="387.90" r="2.80" fill="#f4fbf8"/>
<path d="M190.90 434.70H201.30M196.10 429.50V439.90" stroke="#f4fbf8" stroke-width="1.20" fill="none"/>
<circle cx="289.70" cy="434.70" r="2.80" fill="#f4fbf8"/>
<path d="M284.30 450.30L295.10 450.30M285.88 446.48L293.52 454.12M289.70 444.90L289.70 455.70M293.52 446.48L285.88 454.12" stroke="#f4fbf8" stroke-width="1.35" fill="none" stroke-linecap="round"/>
<path d="M331.30 356.70H341.70M336.50 351.50V361.90" stroke="#f4fbf8" stroke-width="1.20" fill="none"/>
<path d="M346.70 356.70L357.50 356.70M348.28 352.88L355.92 360.52M352.10 351.30L352.10 362.10M355.92 352.88L348.28 360.52" stroke="#f4fbf8" stroke-width="1.35" fill="none" stroke-linecap="round"/>
<path d="M362.30 356.70L373.10 356.70M363.88 352.88L371.52 360.52M367.70 351.30L367.70 362.10M371.52 352.88L363.88 360.52" stroke="#f4fbf8" stroke-width="1.35" fill="none" stroke-linecap="round"/>
<path d="M409.10 356.70L419.90 356.70M410.68 352.88L418.32 360.52M414.50 351.30L414.50 362.10M418.32 352.88L410.68 360.52" stroke="#f4fbf8" stroke-width="1.35" fill="none" stroke-linecap="round"/>
<path d="M362.50 372.30H372.90M367.70 367.10V377.50" stroke="#f4fbf8" stroke-width="1.20" fill="none"/>
<circle cx="336.50" cy="387.90" r="2.80" fill="#f4fbf8"/>
<path d="M346.70 387.90L357.50 387.90M348.28 384.08L355.92 391.72M352.10 382.50L352.10 393.30M355.92 384.08L348.28 391.72" stroke="#f4fbf8" stroke-width="1.35" fill="none" stroke-linecap="round"/>
<path d="M362.30 387.90L373.10 387.90M363.88 384.08L371.52 391.72M367.70 382.50L367.70 393.30M371.52 384.08L363.88 391.72" stroke="#f4fbf8" stroke-width="1.35" fill="none" stroke-linecap="round"/>
<path d="M346.70 434.70L357.50 434.70M348.28 430.88L355.92 438.52M352.10 429.30L352.10 440.10M355.92 430.88L348.28 438.52" stroke="#f4fbf8" stroke-width="1.35" fill="none" stroke-linecap="round"/>
<path d="M331.10 450.30L341.90 450.30M332.68 446.48L340.32 454.12M336.50 444.90L336.50 455.70M340.32 446.48L332.68 454.12" stroke="#f4fbf8" stroke-width="1.35" fill="none" stroke-linecap="round"/>
<circle cx="102.50" cy="528.30" r="2.80" fill="#f4fbf8"/>
<circle cx="164.90" cy="528.30" r="2.80" fill="#f4fbf8"/>
<path d="M159.70 543.90H170.10M164.90 538.70V549.10" stroke="#f4fbf8" stroke-width="1.20" fill="none"/>
<path d="M81.70 559.50H92.10M86.90 554.30V564.70" stroke="#f4fbf8" stroke-width="1.20" fill="none"/>
<path d="M66.10 575.10H76.50M71.30 569.90V580.30" stroke="#f4fbf8" stroke-width="1.20" fill="none"/>
<path d="M97.30 575.10H107.70M102.50 569.90V580.30" stroke="#f4fbf8" stroke-width="1.20" fill="none"/>
<circle cx="180.50" cy="575.10" r="2.80" fill="#f4fbf8"/>
<circle cx="55.70" cy="590.70" r="2.80" fill="#f4fbf8"/>
<path d="M112.70 590.70L123.50 590.70M114.28 586.88L121.92 594.52M118.10 585.30L118.10 596.10M121.92 586.88L114.28 594.52" stroke="#f4fbf8" stroke-width="1.35" fill="none" stroke-linecap="round"/>
<path d="M50.30 606.30L61.10 606.30M51.88 602.48L59.52 610.12M55.70 600.90L55.70 611.70M59.52 602.48L51.88 610.12" stroke="#f4fbf8" stroke-width="1.35" fill="none" stroke-linecap="round"/>
<circle cx="71.30" cy="606.30" r="2.80" fill="#f4fbf8"/>
<path d="M159.70 606.30H170.10M164.90 601.10V611.50" stroke="#f4fbf8" stroke-width="1.20" fill="none"/>
<path d="M65.90 621.90L76.70 621.90M67.48 618.08L75.12 625.72M71.30 616.50L71.30 627.30M75.12 618.08L67.48 625.72" stroke="#f4fbf8" stroke-width="1.35" fill="none" stroke-linecap="round"/>
<path d="M97.10 621.90L107.90 621.90M98.68 618.08L106.32 625.72M102.50 616.50L102.50 627.30M106.32 618.08L98.68 625.72" stroke="#f4fbf8" stroke-width="1.35" fill="none" stroke-linecap="round"/>
<circle cx="149.30" cy="621.90" r="2.80" fill="#f4fbf8"/>
<path d="M159.70 621.90H170.10M164.90 616.70V627.10" stroke="#f4fbf8" stroke-width="1.20" fill="none"/>
<path d="M65.90 637.50L76.70 637.50M67.48 633.68L75.12 641.32M71.30 632.10L71.30 642.90M75.12 633.68L67.48 641.32" stroke="#f4fbf8" stroke-width="1.35" fill="none" stroke-linecap="round"/>
<path d="M97.10 637.50L107.90 637.50M98.68 633.68L106.32 641.32M102.50 632.10L102.50 642.90M106.32 633.68L98.68 641.32" stroke="#f4fbf8" stroke-width="1.35" fill="none" stroke-linecap="round"/>
<circle cx="133.70" cy="637.50" r="2.80" fill="#f4fbf8"/>
<circle cx="149.30" cy="637.50" r="2.80" fill="#f4fbf8"/>
<circle cx="55.70" cy="653.10" r="2.80" fill="#f4fbf8"/>
<path d="M65.90 653.10L76.70 653.10M67.48 649.28L75.12 656.92M71.30 647.70L71.30 658.50M75.12 649.28L67.48 656.92" stroke="#f4fbf8" stroke-width="1.35" fill="none" stroke-linecap="round"/>
<circle cx="118.10" cy="653.10" r="2.80" fill="#f4fbf8"/>
<path d="M65.90 668.70L76.70 668.70M67.48 664.88L75.12 672.52M71.30 663.30L71.30 674.10M75.12 664.88L67.48 672.52" stroke="#f4fbf8" stroke-width="1.35" fill="none" stroke-linecap="round"/>
<path d="M65.90 684.30L76.70 684.30M67.48 680.48L75.12 688.12M71.30 678.90L71.30 689.70M75.12 680.48L67.48 688.12" stroke="#f4fbf8" stroke-width="1.35" fill="none" stroke-linecap="round"/>
<path d="M65.90 699.90L76.70 699.90M67.48 696.08L75.12 703.72M71.30 694.50L71.30 705.30M75.12 696.08L67.48 703.72" stroke="#f4fbf8" stroke-width="1.35" fill="none" stroke-linecap="round"/>
<path d="M50.30 715.50L61.10 715.50M51.88 711.68L59.52 719.32M55.70 710.10L55.70 720.90M59.52 711.68L51.88 719.32" stroke="#f4fbf8" stroke-width="1.35" fill="none" stroke-linecap="round"/>
<path d="M50.30 731.10L61.10 731.10M51.88 727.28L59.52 734.92M55.70 725.70L55.70 736.50M59.52 727.28L51.88 734.92" stroke="#f4fbf8" stroke-width="1.35" fill="none" stroke-linecap="round"/>
<line x1="0.00" y1="473.70" x2="328.70" y2="473.70" stroke="#26264a" stroke-width="1.6"/>
<line x1="328.70" y1="301.00" x2="328.70" y2="473.70" stroke="#26264a" stroke-width="1.6"/>
<text x="42.40" y="360.00" font-size="9.5" fill="#2b2b55" stroke="#2b2b55" stroke-width="0.4" text-anchor="end">Complex</text>
<text x="42.40" y="375.60" font-size="9.5" fill="#2b2b55" stroke="#2b2b55" stroke-width="0.4" text-anchor="end">del(20q)</text>
<text x="42.40" y="391.20" font-size="9.5" fill="#2b2b55" stroke="#2b2b55" stroke-width="0.4" text-anchor="end">del(17p)</text>
<text x="42.40" y="406.80" font-size="9.5" fill="#2b2b55" stroke="#2b2b55" stroke-width="0.4" text-anchor="end">del(12)</text>
<text x="42.40" y="422.40" font-size="9.5" fill="#2b2b55" stroke="#2b2b55" stroke-width="0.4" text-anchor="end">+8</text>
<text x="42.40" y="438.00" font-size="9.5" fill="#2b2b55" stroke="#2b2b55" stroke-width="0.4" text-anchor="end">del(7q)</text>
<text x="42.40" y="453.60" font-size="9.5" fill="#2b2b55" stroke="#2b2b55" stroke-width="0.4" text-anchor="end">del(5q)</text>
<text x="42.40" y="469.20" font-size="9.5" fill="#2b2b55" stroke="#2b2b55" stroke-width="0.4" text-anchor="end">Rearr chr3</text>
<text x="42.00" y="484.80" font-size="9.5" fill="#253a5c" stroke="#253a5c" stroke-width="0.4" text-anchor="end" font-style="italic" textLength="19.8" lengthAdjust="spacingAndGlyphs">IDH1</text>
<text x="42.00" y="500.40" font-size="9.5" fill="#d29a1c" stroke="#d29a1c" stroke-width="0.4" text-anchor="end" font-style="italic" textLength="14.4" lengthAdjust="spacingAndGlyphs">CBL</text>
<text x="42.00" y="516.00" font-size="9.5" fill="#d29a1c" stroke="#d29a1c" stroke-width="0.4" text-anchor="end" font-style="italic" textLength="18.6" lengthAdjust="spacingAndGlyphs">TP53</text>
<text x="42.00" y="531.60" font-size="9.5" fill="#d29a1c" stroke="#d29a1c" stroke-width="0.4" text-anchor="end" font-style="italic" textLength="21.0" lengthAdjust="spacingAndGlyphs">NRAS</text>
<text x="42.00" y="547.20" font-size="9.5" fill="#d29a1c" stroke="#d29a1c" stroke-width="0.4" text-anchor="end" font-style="italic" textLength="19.5" lengthAdjust="spacingAndGlyphs">JAK2</text>
<text x="42.00" y="562.80" font-size="9.5" fill="#5a7cb0" stroke="#5a7cb0" stroke-width="0.4" text-anchor="end" font-style="italic" textLength="21.8" lengthAdjust="spacingAndGlyphs">BCOR</text>
<text x="42.00" y="578.40" font-size="9.5" fill="#5a7cb0" stroke="#5a7cb0" stroke-width="0.4" text-anchor="end" font-style="italic" textLength="21.0" lengthAdjust="spacingAndGlyphs">EZH2</text>
<text x="42.00" y="594.00" font-size="9.5" fill="#3a2616" stroke="#3a2616" stroke-width="0.4" text-anchor="end" font-style="italic" textLength="25.0" lengthAdjust="spacingAndGlyphs">ZRSR2</text>
<text x="42.00" y="609.60" font-size="9.5" fill="#3a2616" stroke="#3a2616" stroke-width="0.4" text-anchor="end" font-style="italic" textLength="25.0" lengthAdjust="spacingAndGlyphs">U2AF1</text>
<text x="42.00" y="625.20" font-size="9.5" fill="#5a7cb0" stroke="#5a7cb0" stroke-width="0.4" text-anchor="end" font-style="italic" textLength="23.8" lengthAdjust="spacingAndGlyphs">STAG2</text>
<text x="42.00" y="640.80" font-size="9.5" fill="#5a7cb0" stroke="#5a7cb0" stroke-width="0.4" text-anchor="end" font-style="italic" textLength="24.6" lengthAdjust="spacingAndGlyphs">ASXL1</text>
<text x="42.00" y="656.40" font-size="9.5" fill="#253a5c" stroke="#253a5c" stroke-width="0.4" text-anchor="end" font-style="italic" textLength="19.3" lengthAdjust="spacingAndGlyphs">IDH2</text>
<text x="42.00" y="672.00" font-size="9.5" fill="#5a4394" stroke="#5a4394" stroke-width="0.4" text-anchor="end" font-style="italic" textLength="21.3" lengthAdjust="spacingAndGlyphs">CUX1</text>
<text x="42.00" y="687.60" font-size="9.5" fill="#253a5c" stroke="#253a5c" stroke-width="0.4" text-anchor="end" font-style="italic" textLength="18.3" lengthAdjust="spacingAndGlyphs">TET2</text>
<text x="42.00" y="703.20" font-size="9.5" fill="#5a4394" stroke="#5a4394" stroke-width="0.4" text-anchor="end" font-style="italic" textLength="26.5" lengthAdjust="spacingAndGlyphs">RUNX1</text>
<text x="42.00" y="718.80" font-size="9.5" fill="#253a5c" stroke="#253a5c" stroke-width="0.4" text-anchor="end" font-style="italic" textLength="34.8" lengthAdjust="spacingAndGlyphs">DNMT3A</text>
<text x="42.00" y="734.40" font-size="9.5" fill="#3a2616" stroke="#3a2616" stroke-width="0.4" text-anchor="end" font-style="italic" textLength="23.2" lengthAdjust="spacingAndGlyphs">SFRS2</text>
<text x="59.60" y="342.80" font-size="9.4" fill="#654418" stroke="#654418" stroke-width="0.55" font-style="italic" textLength="23.7" lengthAdjust="spacingAndGlyphs" transform="rotate(-90 59.60 342.80)">SF3B1</text>
<text x="75.20" y="342.80" font-size="9.4" fill="#3a2616" stroke="#3a2616" stroke-width="0.55" font-style="italic" textLength="25" lengthAdjust="spacingAndGlyphs" transform="rotate(-90 75.20 342.80)">SFRS2</text>
<text x="90.80" y="342.80" font-size="9.4" fill="#253a5c" stroke="#253a5c" stroke-width="0.55" font-style="italic" textLength="37" lengthAdjust="spacingAndGlyphs" transform="rotate(-90 90.80 342.80)">DNMT3A</text>
<text x="106.40" y="342.80" font-size="9.4" fill="#5a4394" stroke="#5a4394" stroke-width="0.55" font-style="italic" textLength="27.7" lengthAdjust="spacingAndGlyphs" transform="rotate(-90 106.40 342.80)">RUNX1</text>
<text x="122.00" y="342.80" font-size="9.4" fill="#253a5c" stroke="#253a5c" stroke-width="0.55" font-style="italic" textLength="18.3" lengthAdjust="spacingAndGlyphs" transform="rotate(-90 122.00 342.80)">TET2</text>
<text x="137.60" y="342.80" font-size="9.4" fill="#5a4394" stroke="#5a4394" stroke-width="0.55" font-style="italic" textLength="21" lengthAdjust="spacingAndGlyphs" transform="rotate(-90 137.60 342.80)">CUX1</text>
<text x="153.20" y="342.80" font-size="9.4" fill="#253a5c" stroke="#253a5c" stroke-width="0.55" font-style="italic" textLength="19.6" lengthAdjust="spacingAndGlyphs" transform="rotate(-90 153.20 342.80)">IDH2</text>
<text x="168.80" y="342.80" font-size="9.4" fill="#5a7cb0" stroke="#5a7cb0" stroke-width="0.55" font-style="italic" textLength="26.3" lengthAdjust="spacingAndGlyphs" transform="rotate(-90 168.80 342.80)">ASXL1</text>
<text x="184.40" y="342.80" font-size="9.4" fill="#5a7cb0" stroke="#5a7cb0" stroke-width="0.55" font-style="italic" textLength="25.8" lengthAdjust="spacingAndGlyphs" transform="rotate(-90 184.40 342.80)">STAG2</text>
<text x="200.00" y="342.80" font-size="9.4" fill="#3a2616" stroke="#3a2616" stroke-width="0.55" font-style="italic" textLength="24.3" lengthAdjust="spacingAndGlyphs" transform="rotate(-90 200.00 342.80)">U2AF1</text>
<text x="215.60" y="342.80" font-size="9.4" fill="#3a2616" stroke="#3a2616" stroke-width="0.55" font-style="italic" textLength="24.3" lengthAdjust="spacingAndGlyphs" transform="rotate(-90 215.60 342.80)">ZRSR2</text>
<text x="231.20" y="342.80" font-size="9.4" fill="#5a7cb0" stroke="#5a7cb0" stroke-width="0.55" font-style="italic" textLength="20.1" lengthAdjust="spacingAndGlyphs" transform="rotate(-90 231.20 342.80)">EZH2</text>
<text x="246.80" y="342.80" font-size="9.4" fill="#5a7cb0" stroke="#5a7cb0" stroke-width="0.55" font-style="italic" textLength="21.5" lengthAdjust="spacingAndGlyphs" transform="rotate(-90 246.80 342.80)">BCOR</text>
<text x="262.40" y="342.80" font-size="9.4" fill="#d29a1c" stroke="#d29a1c" stroke-width="0.55" font-style="italic" textLength="18.7" lengthAdjust="spacingAndGlyphs" transform="rotate(-90 262.40 342.80)">JAK2</text>
<text x="278.00" y="342.80" font-size="9.4" fill="#d29a1c" stroke="#d29a1c" stroke-width="0.55" font-style="italic" textLength="21.5" lengthAdjust="spacingAndGlyphs" transform="rotate(-90 278.00 342.80)">NRAS</text>
<text x="293.60" y="342.80" font-size="9.4" fill="#d29a1c" stroke="#d29a1c" stroke-width="0.55" font-style="italic" textLength="20.1" lengthAdjust="spacingAndGlyphs" transform="rotate(-90 293.60 342.80)">TP53</text>
<text x="309.20" y="342.80" font-size="9.4" fill="#d29a1c" stroke="#d29a1c" stroke-width="0.55" font-style="italic" textLength="15.9" lengthAdjust="spacingAndGlyphs" transform="rotate(-90 309.20 342.80)">CBL</text>
<text x="324.80" y="342.80" font-size="9.4" fill="#253a5c" stroke="#253a5c" stroke-width="0.55" font-style="italic" textLength="18.7" lengthAdjust="spacingAndGlyphs" transform="rotate(-90 324.80 342.80)">IDH1</text>
<text x="340.30" y="342.80" font-size="9.4" fill="#2b2b55" stroke="#2b2b55" stroke-width="0.55" textLength="41.2" lengthAdjust="spacingAndGlyphs" transform="rotate(-90 340.30 342.80)">Rearr chr3</text>
<text x="355.90" y="342.80" font-size="9.4" fill="#2b2b55" stroke="#2b2b55" stroke-width="0.55" transform="rotate(-90 355.90 342.80)">del(5q)</text>
<text x="371.50" y="342.80" font-size="9.4" fill="#2b2b55" stroke="#2b2b55" stroke-width="0.55" transform="rotate(-90 371.50 342.80)">del(7q)</text>
<text x="387.10" y="342.80" font-size="9.4" fill="#2b2b55" stroke="#2b2b55" stroke-width="0.55" transform="rotate(-90 387.10 342.80)">+8</text>
<text x="402.70" y="342.80" font-size="9.4" fill="#2b2b55" stroke="#2b2b55" stroke-width="0.55" transform="rotate(-90 402.70 342.80)">del(12)</text>
<text x="418.30" y="342.80" font-size="9.4" fill="#2b2b55" stroke="#2b2b55" stroke-width="0.55" transform="rotate(-90 418.30 342.80)">del(17p)</text>
<text x="433.90" y="342.80" font-size="9.4" fill="#2b2b55" stroke="#2b2b55" stroke-width="0.55" transform="rotate(-90 433.90 342.80)">del(20q)</text>
<circle cx="402.40" cy="435.80" r="1.3" fill="#6b3f1c"/>
<text x="409.50" y="441.50" font-size="10" fill="#6b3f1c" stroke="#6b3f1c" stroke-width="0.4" textLength="32.5" lengthAdjust="spacingAndGlyphs">Splicing</text>
<circle cx="402.40" cy="452.60" r="1.3" fill="#233f6a"/>
<text x="409.50" y="458.30" font-size="10" fill="#233f6a" stroke="#233f6a" stroke-width="0.4" textLength="72.4" lengthAdjust="spacingAndGlyphs">DNA methylation</text>
<circle cx="402.40" cy="469.40" r="1.3" fill="#5b86c0"/>
<text x="409.50" y="475.10" font-size="10" fill="#5b86c0" stroke="#5b86c0" stroke-width="0.4" textLength="44.7" lengthAdjust="spacingAndGlyphs">Chromatin</text>
<circle cx="402.40" cy="485.40" r="1.3" fill="#e0a532"/>
<text x="409.00" y="491.10" font-size="10" fill="#e0a532" stroke="#e0a532" stroke-width="0.4" textLength="39.6" lengthAdjust="spacingAndGlyphs">Signalling</text>
<circle cx="402.40" cy="501.20" r="1.3" fill="#4d3c8c"/>
<text x="410.40" y="506.90" font-size="10" fill="#4d3c8c" stroke="#4d3c8c" stroke-width="0.4" textLength="54.8" lengthAdjust="spacingAndGlyphs">Transcription</text>
<circle cx="403.50" cy="516.80" r="1.3" fill="#1a1010"/>
<text x="406.50" y="522.50" font-size="10" fill="#1a1010" stroke="#1a1010" stroke-width="0.4" textLength="25" lengthAdjust="spacingAndGlyphs">Other</text>
<rect x="321.60" y="556.00" width="15.10" height="14.95" fill="#1f3631"/>
<rect x="321.60" y="570.90" width="15.10" height="14.95" fill="#2b5f58"/>
<rect x="321.60" y="585.80" width="15.10" height="14.95" fill="#45887f"/>
<rect x="321.60" y="600.70" width="15.10" height="14.95" fill="#90c8bf"/>
<rect x="321.60" y="615.60" width="15.10" height="14.95" fill="#cfe6e3"/>
<rect x="321.60" y="630.50" width="15.10" height="14.95" fill="#f9f9fb"/>
<rect x="321.60" y="645.40" width="15.10" height="14.95" fill="#f3e6c2"/>
<rect x="321.60" y="660.30" width="15.10" height="14.95" fill="#d8be7a"/>
<rect x="321.60" y="675.20" width="15.10" height="14.95" fill="#c28828"/>
<rect x="321.60" y="690.10" width="15.10" height="14.95" fill="#8c5a1c"/>
<rect x="321.60" y="705.00" width="15.10" height="14.95" fill="#4c331a"/>
<line x1="340.30" y1="563.50" x2="340.30" y2="712.40" stroke="#111" stroke-width="1.2"/>
<line x1="339.70" y1="563.50" x2="342.40" y2="563.50" stroke="#111" stroke-width="1.2"/>
<line x1="339.70" y1="637.90" x2="342.40" y2="637.90" stroke="#111" stroke-width="1.2"/>
<line x1="339.70" y1="712.40" x2="342.40" y2="712.40" stroke="#111" stroke-width="1.2"/>
<text x="345.60" y="567.30" font-size="10.5" fill="#000" stroke="#000" stroke-width="0.4" textLength="11.4" lengthAdjust="spacingAndGlyphs">28</text>
<text x="345.40" y="641.50" font-size="10.5" fill="#000" stroke="#000" stroke-width="0.4">1</text>
<text x="345.60" y="716.60" font-size="10.5" fill="#000" stroke="#000" stroke-width="0.4" textLength="20.3" lengthAdjust="spacingAndGlyphs">0.05</text>
<text x="296.40" y="550.80" font-size="11" fill="#000" stroke="#000" stroke-width="0.4" textLength="63.4" lengthAdjust="spacingAndGlyphs">Co–mutated</text>
<text x="313.30" y="638.00" font-size="11" fill="#000" stroke="#000" stroke-width="0.4" text-anchor="middle" textLength="52" lengthAdjust="spacingAndGlyphs" transform="rotate(-90 313.30 638.00)">Odds ratio</text>
<text x="329.00" y="735.00" font-size="11" fill="#000" stroke="#000" stroke-width="0.4" text-anchor="middle" textLength="41.3" lengthAdjust="spacingAndGlyphs">Mutually</text>
<text x="329.00" y="748.50" font-size="11" fill="#000" stroke="#000" stroke-width="0.4" text-anchor="middle" textLength="44" lengthAdjust="spacingAndGlyphs">exclusive</text>
<rect x="183.9" y="647.5" width="72.7" height="58" rx="8" ry="8" fill="#fff" stroke="#a9a9a9" stroke-width="1.3"/>
<circle cx="195.40" cy="659.50" r="2.30" fill="#111"/>
<path d="M190.62 677.00H200.18M195.40 672.22V681.78" stroke="#111" stroke-width="1.10" fill="none"/>
<path d="M190.27 694.00L200.53 694.00M191.77 690.37L199.03 697.63M195.40 688.87L195.40 699.13M199.03 690.37L191.77 697.63" stroke="#111" stroke-width="1.28" fill="none" stroke-linecap="round"/>
<text x="209.80" y="663.00" font-size="10.5" fill="#000" stroke="#000" stroke-width="0.4" textLength="27.5" lengthAdjust="spacingAndGlyphs">q&lt;0.1</text>
<text x="209.80" y="680.50" font-size="10.5" fill="#000" stroke="#000" stroke-width="0.4" textLength="34.7" lengthAdjust="spacingAndGlyphs">q&lt;0.05</text>
<text x="209.80" y="697.50" font-size="10.5" fill="#000" stroke="#000" stroke-width="0.4" textLength="33.2" lengthAdjust="spacingAndGlyphs">q&lt;0.01</text>
</svg>
</body></html>
